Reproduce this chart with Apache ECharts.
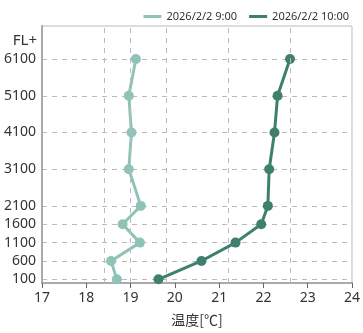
<!DOCTYPE html>
<html>
<head>
<meta charset="utf-8">
<script src="https://cdn.jsdelivr.net/npm/echarts@6/dist/echarts.min.js"></script>
<style>html,body{margin:0;padding:0;background:#fff}#c{width:363px;height:333px}</style>
</head>
<body>
<div id="c"></div>
<script>
var seriesNames = ['2026/2/2 9:00', '2026/2/2 10:00'];
var heights = [100, 600, 1100, 1600, 2100, 3100, 4100, 5100, 6100];
var temp0900 = [18.69, 18.56, 19.21, 18.82, 19.23, 18.96, 19.02, 18.96, 19.12];
var temp1000 = [19.63, 20.6, 21.37, 21.95, 22.1, 22.13, 22.25, 22.32, 22.6];
var yTickValues = [100, 600, 1100, 1600, 2100, 3100, 4100, 5100, 6100];
var xGridValues = [18.4, 19.0, 19.8, 21.2, 22.6];

function pairs(t) { return heights.map(function (h, i) { return [t[i], h]; }); }

var chart = echarts.init(document.getElementById('c'));
var font = '"Noto Sans", "Noto Sans CJK JP", sans-serif';
var gridLine = { type: [5, 5], color: '#bbb', width: 1 };
chart.setOption({
  animation: false,
  textStyle: { fontFamily: font },
  legend: {
    right: 9, top: 6,
    icon: 'rect', itemWidth: 18, itemHeight: 3, itemGap: 12, itemStyle: { borderWidth: 0 },
    textStyle: { fontSize: 11, color: '#333', fontFamily: font },
    data: seriesNames
  },
  grid: { left: 42, right: 8, top: 26, bottom: 50, show: true, borderColor: '#bbb', borderWidth: 1 },
  xAxis: {
    type: 'value', min: 17, max: 24, interval: 1,
    name: '温度[℃]', nameLocation: 'middle', nameGap: 30,
    nameTextStyle: { fontSize: 14, color: '#333', fontFamily: '"Noto Sans CJK JP", sans-serif' },
    axisLine: { show: true, lineStyle: { color: '#aaa', width: 2 } },
    axisTick: { show: true, length: 5, lineStyle: { color: '#666' } },
    axisLabel: { fontSize: 14, color: '#333', margin: 8 },
    splitLine: { show: false }
  },
  yAxis: {
    type: 'value', min: 0, max: 7000,
    name: 'FL+', nameLocation: 'end', nameGap: -22,
    nameTextStyle: { fontSize: 15, color: '#333', align: 'right', padding: [0, 5, 0, 0] },
    axisLine: { show: true, lineStyle: { color: '#aaa', width: 2 } },
    axisTick: { show: false, customValues: yTickValues },
    axisLabel: { fontSize: 14, color: '#333', margin: 6, customValues: yTickValues,
      formatter: function (v) { return String(v); } },
    splitLine: { show: true, lineStyle: gridLine }
  },
  series: [{
    name: 'vgrid', type: 'line', data: [], z: 1, silent: true,
    markLine: {
      silent: true, symbol: 'none', label: { show: false },
      lineStyle: gridLine, emphasis: { disabled: true },
      data: xGridValues.map(function (v) { return { xAxis: v }; })
    }
  }, {
    name: seriesNames[0], type: 'line', data: pairs(temp0900), z: 3,
    symbol: 'circle', symbolSize: 10,
    itemStyle: { color: '#8fc3b7' }, lineStyle: { width: 3, color: '#8fc3b7' }
  }, {
    name: seriesNames[1], type: 'line', data: pairs(temp1000), z: 3,
    symbol: 'circle', symbolSize: 10,
    itemStyle: { color: '#3e7f6e' }, lineStyle: { width: 3, color: '#3e7f6e' }
  }]
});
</script>
</body>
</html>
